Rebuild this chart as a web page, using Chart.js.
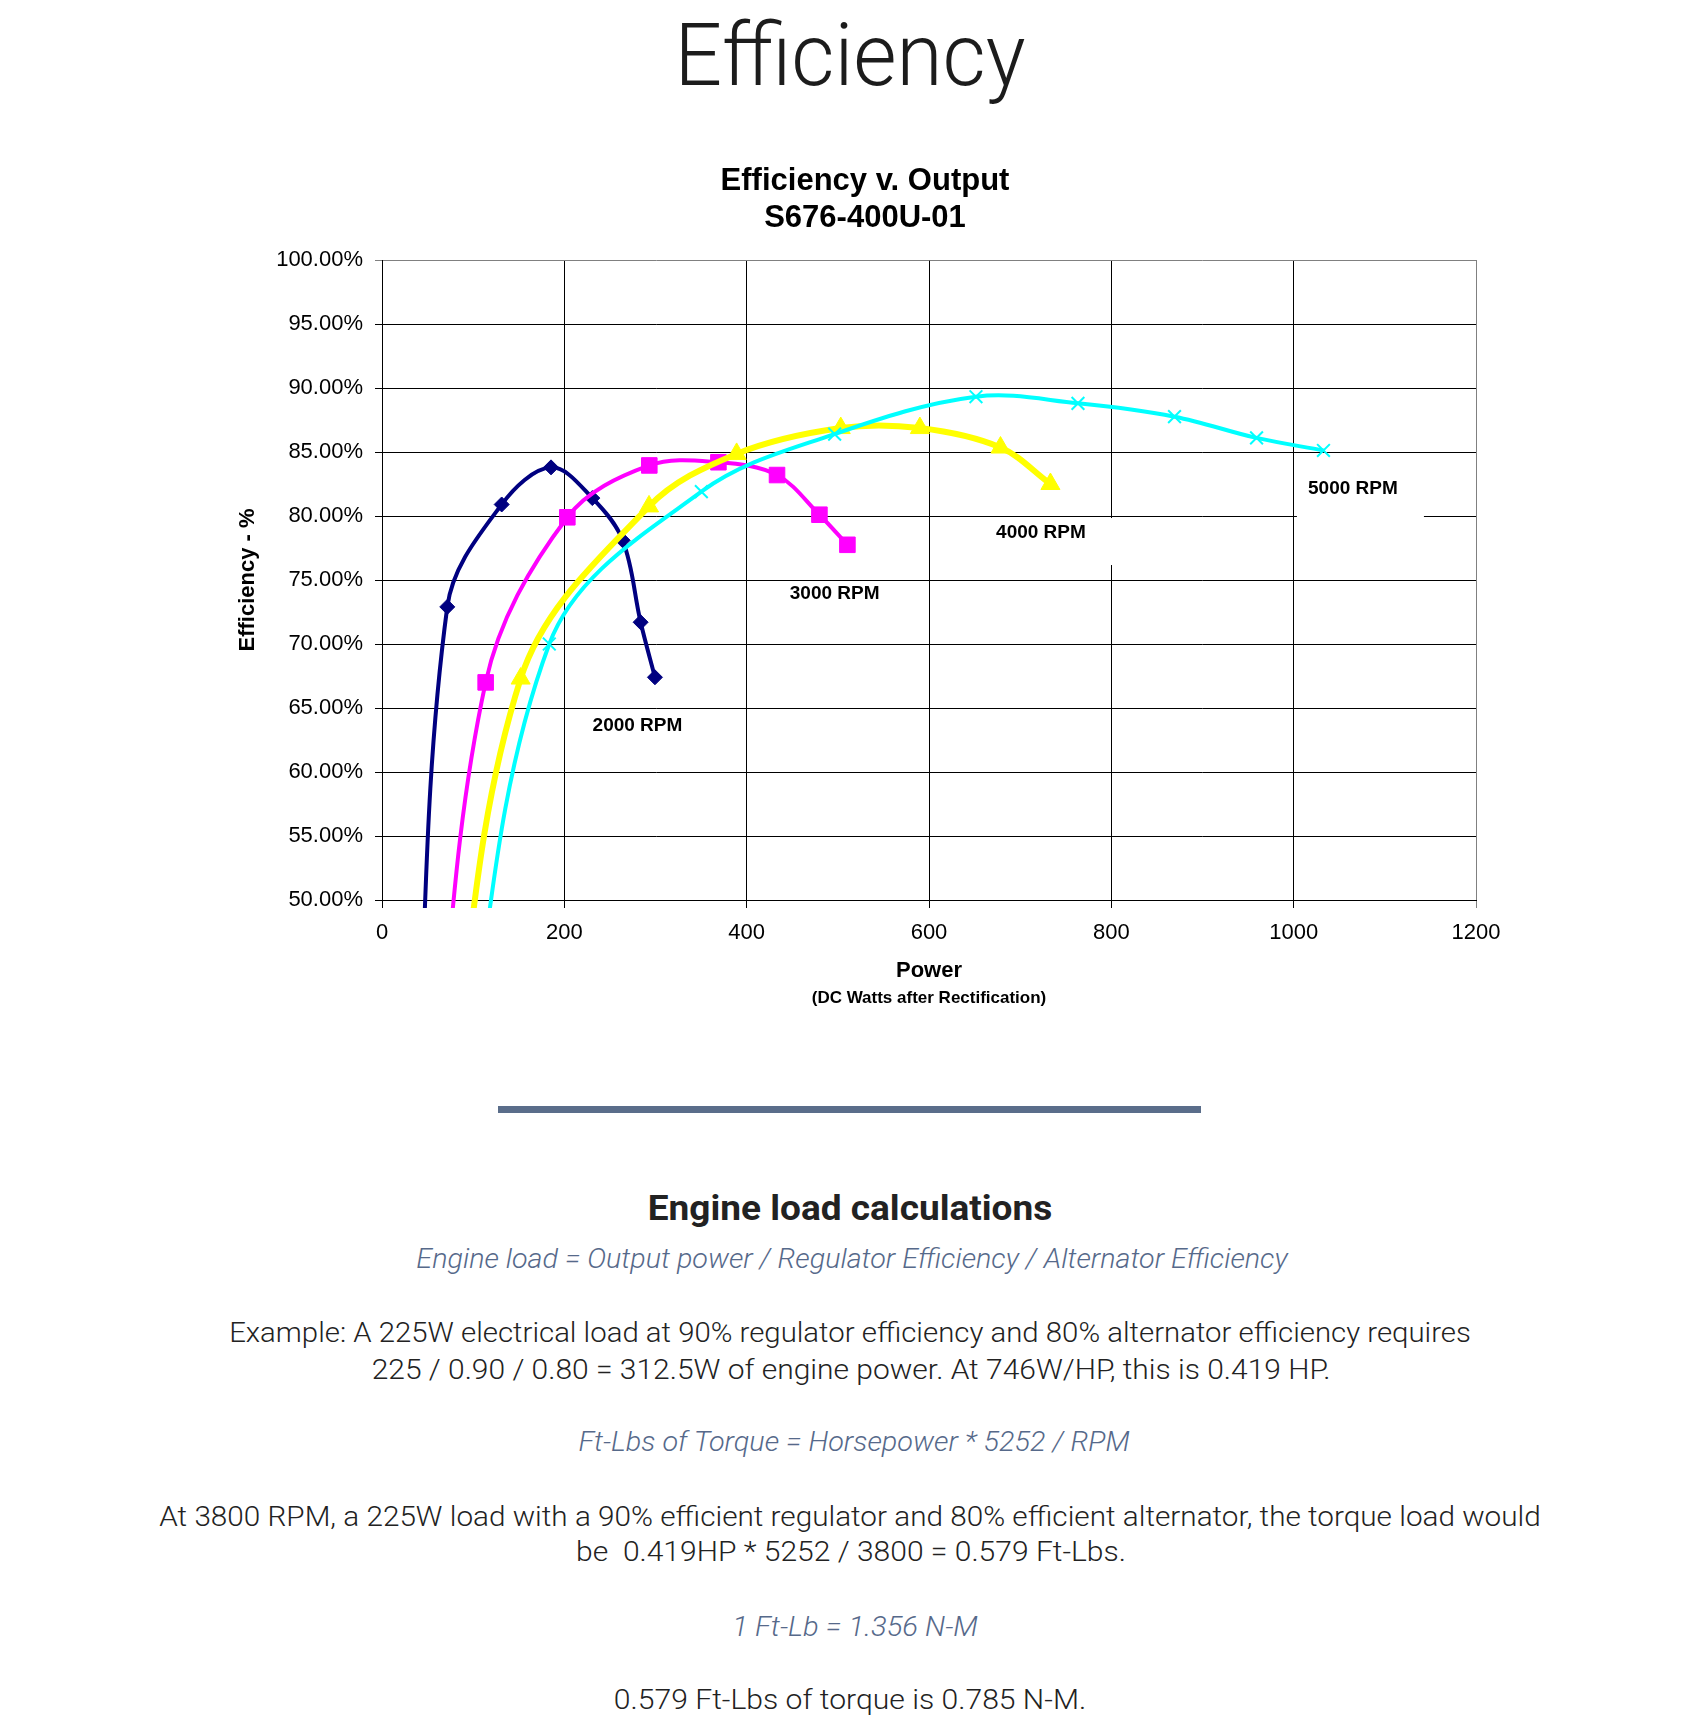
<!DOCTYPE html>
<html>
  <head>
    <title>Efficiency</title>
    <script src="https://cdn.jsdelivr.net/npm/chart.js"></script>
    <style>
      body {
        margin: 0;
        width: 1700px;
        height: 1728px;
        position: relative;
        overflow: hidden;
        background: #fff;
        font-family: Roboto, sans-serif;
        color: #222;
      }
      .line {
        position: absolute;
        white-space: pre;
        line-height: 1;
        transform-origin: center center;
      }
      .head {
        font-weight: 300;
        font-size: 88px;
        color: #1c1c1c;
      }
      .sub {
        font-weight: 700;
        font-size: 35px;
      }
      .formula {
        font-style: italic;
        font-weight: 300;
        font-size: 28px;
        color: #56698a;
      }
      .text {
        font-weight: 300;
        font-size: 28px;
      }
      .rule {
        position: absolute;
        left: 498px;
        top: 1106px;
        width: 703px;
        height: 7px;
        background: #5a6d8a;
      }
      #chartBox {
        position: absolute;
        left: 0;
        top: 130px;
      }
    </style>
  </head>

  <body>
    <div class="line head" data-x="849.5" data-y="54.5" data-w="351">Efficiency</div>

    <div id="chartBox">
      <canvas id="effChart" width="1700" height="890"></canvas>
    </div>

    <div class="rule"></div>

    <div class="line sub" data-x="850" data-y="1207.5" data-w="404">Engine load calculations</div>
    <div class="line formula" data-x="851.5" data-y="1259" data-w="871">Engine load = Output power / Regulator Efficiency / Alternator Efficiency</div>
    <div class="line text" data-x="850" data-y="1333" data-w="1242">Example: A 225W electrical load at 90% regulator efficiency and 80% alternator efficiency requires</div>
    <div class="line text" data-x="850.5" data-y="1370" data-w="959">225 / 0.90 / 0.80 = 312.5W of engine power. At 746W/HP, this is 0.419 HP.</div>
    <div class="line formula" data-x="853.5" data-y="1442" data-w="551">Ft-Lbs of Torque = Horsepower * 5252 / RPM</div>
    <div class="line text" data-x="849.5" data-y="1517" data-w="1381">At 3800 RPM, a 225W load with a 90% efficient regulator and 80% efficient alternator, the torque load would</div>
    <div class="line text" data-x="851" data-y="1552" data-w="550">be  0.419HP * 5252 / 3800 = 0.579 Ft-Lbs.</div>
    <div class="line formula" data-x="855" data-y="1627" data-w="246">1 Ft-Lb = 1.356 N-M</div>
    <div class="line text" data-x="850" data-y="1699.5" data-w="472">0.579 Ft-Lbs of torque is 0.785 N-M.</div>

    <script>
      // power (DC watts) and efficiency (%)
      // first point of each series sits below the 50% floor, so only its line shows
      const rpm2000Power = [36, 71.6, 131.3, 185.4, 230.7, 264, 283.7, 299.4];
      const rpm2000Eff = [30, 72.9, 80.9, 83.8, 81.4, 78.1, 71.7, 67.4];

      const rpm3000Power = [52, 113.7, 203.3, 293.2, 369, 433.3, 479.8, 510.5];
      const rpm3000Eff = [30, 67.0, 79.9, 83.95, 84.2, 83.2, 80.1, 77.75];

      const rpm4000Power = [66, 152.1, 292.9, 389, 503.2, 590, 678.4, 733.2];
      const rpm4000Eff = [30, 67.3, 80.75, 84.85, 86.87, 86.87, 85.35, 82.5];

      const rpm5000Power = [80, 183.5, 350.3, 496.5, 651.5, 763.4, 869.3, 959.3, 1032.7];
      const rpm5000Eff = [30, 70.0, 81.9, 86.4, 89.32, 88.8, 87.76, 86.1, 85.12];

      const seriesNames = ["2000 RPM", "3000 RPM", "4000 RPM", "5000 RPM"];

      const chartFont = "'Liberation Sans', Arial, sans-serif";

      function series(label, xs, ys, color, width, style, radius, pointBorder, order) {
        return {
          label: label,
          data: xs.map((x, i) => ({ x: x, y: ys[i] })),
          borderColor: color,
          backgroundColor: color,
          borderWidth: width,
          pointStyle: style,
          pointRadius: radius,
          pointHoverRadius: radius,
          pointBackgroundColor: color,
          pointBorderColor: color,
          pointBorderWidth: pointBorder,
          tension: 0.35,
          order: order,
          clip: { left: 4, top: 4, right: 4, bottom: 8 },
        };
      }

      // the RPM tags in the plot, some on white boxes that hide the grid
      const rpmLabels = {
        id: "rpmLabels",
        beforeDatasetsDraw(chart, args, opts) {
          const { ctx } = chart;
          const xs = chart.scales.x;
          const ys = chart.scales.y;
          ctx.save();
          ctx.font = "bold 19px " + chartFont;
          ctx.textAlign = "center";
          ctx.textBaseline = "middle";
          opts.items.forEach((item) => {
            const px = xs.getPixelForValue(item.x);
            const py = ys.getPixelForValue(item.y);
            if (item.box) {
              ctx.fillStyle = "#fff";
              ctx.fillRect(px + item.box[0], py + item.box[1], item.box[2] - item.box[0], item.box[3] - item.box[1]);
            }
            ctx.fillStyle = "#000";
            ctx.fillText(item.text, px, py);
          });
          ctx.restore();
        },
      };

      const edgeColor = (edge) => (ctx) =>
        ctx.tick && ctx.tick.value === edge ? "#808080" : "#000";

      const config = {
        type: "line",
        data: {
          datasets: [
            series(seriesNames[0], rpm2000Power, rpm2000Eff, "#000080", 4, "rectRot", 7.5, 1, 4),
            series(seriesNames[1], rpm3000Power, rpm3000Eff, "#ff00ff", 4, "rect", 11, 1, 3),
            series(seriesNames[2], rpm4000Power, rpm4000Eff, "#ffff00", 6, "triangle", 11, 1, 2),
            series(seriesNames[3], rpm5000Power, rpm5000Eff, "#00ffff", 4, "crossRot", 9, 2, 1),
          ],
        },
        options: {
          responsive: false,
          animation: false,
          devicePixelRatio: 1,
          events: [],
          layout: { padding: { left: 254, right: 224, top: 0, bottom: 7.6 } },
          plugins: {
            legend: { display: false },
            tooltip: { enabled: false },
            title: {
              display: true,
              text: ["Efficiency v. Output", "S676-400U-01"],
              color: "#000",
              font: { family: chartFont, size: 31, weight: "bold", lineHeight: 37 / 31 },
              padding: { top: 32.5, bottom: 23.5 },
            },
            subtitle: {
              display: true,
              position: "bottom",
              fullSize: false,
              text: "(DC Watts after Rectification)",
              color: "#000",
              font: { family: chartFont, size: 17, weight: "bold" },
              padding: { top: 4, bottom: 4 },
            },
            rpmLabels: {
              items: [
                { text: seriesNames[0], x: 280.2, y: 63.58 },
                { text: seriesNames[1], x: 496.5, y: 73.93 },
                { text: seriesNames[2], x: 722.8, y: 78.67, box: [-73, -15, 76, 32] },
                { text: seriesNames[3], x: 1065, y: 82.16, box: [-56, -35, 71, 30] },
              ],
            },
          },
          scales: {
            x: {
              type: "linear",
              min: 0,
              max: 1200,
              ticks: {
                stepSize: 200,
                padding: 12,
                maxRotation: 0,
                color: "#000",
                font: { family: chartFont, size: 22 },
                callback: (v) => String(v),
              },
              grid: { color: edgeColor(1200), lineWidth: 1, tickLength: 8 },
              border: { color: "#000", width: 1 },
              title: {
                display: true,
                text: "Power",
                color: "#000",
                font: { family: chartFont, size: 22, weight: "bold" },
                padding: { top: 0, bottom: 0 },
              },
              afterFit: (s) => {
                s.height = 84;
              },
            },
            y: {
              min: 50,
              max: 100,
              ticks: {
                stepSize: 5,
                padding: 12,
                color: "#000",
                font: { family: chartFont, size: 22 },
                callback: (v) => v.toFixed(2) + "%",
              },
              grid: { color: edgeColor(100), lineWidth: 1, tickLength: 7 },
              border: { color: "#000", width: 1 },
              title: {
                display: true,
                text: "Efficiency - %",
                color: "#000",
                font: { family: chartFont, size: 22, weight: "bold" },
                padding: { top: -19, bottom: 0 },
              },
              afterFit: (s) => {
                s.width = 128;
              },
            },
          },
        },
        plugins: [rpmLabels],
      };

      const effChart = new Chart(document.getElementById("effChart"), config);

      // squeeze each text line to the width it has on the page
      function placeLines() {
        document.querySelectorAll(".line").forEach((el) => {
          const k = Number(el.dataset.w) / el.offsetWidth;
          el.style.left = el.dataset.x + "px";
          el.style.top = el.dataset.y + "px";
          el.style.transform = "translate(-50%, -50%) scaleX(" + k + ")";
        });
      }
      placeLines();
      document.fonts.ready.then(placeLines);
    </script>
  </body>
</html>
